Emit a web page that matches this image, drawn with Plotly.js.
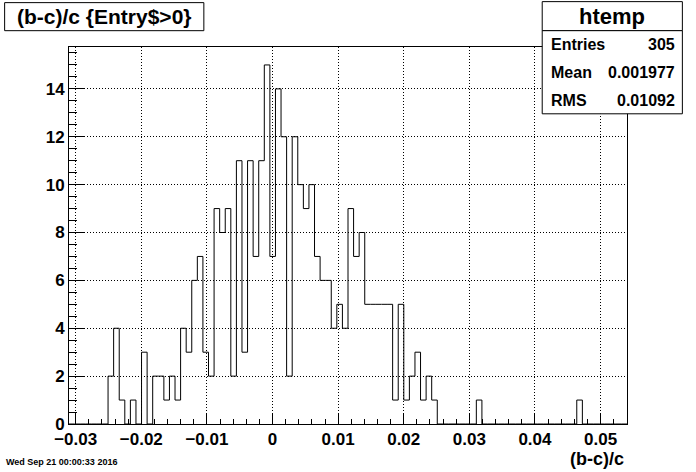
<!DOCTYPE html>
<html>
<head>
<meta charset="utf-8">
<script src="https://cdn.plot.ly/plotly-3.0.1.min.js"></script>
<style>html,body{margin:0;padding:0;background:#fff;}#plot{width:696px;height:472px;}</style>
</head>
<body>
<div id="plot"></div>
<script>
// Histogram binning
var nBins = 100;
var xMin = -0.03102;
var xMax = 0.05403;
// Bin contents, bins 0..99
var counts = [
  0,0,0,0,0,0,0,2,4,1,
  0,1,0,3,0,2,2,1,2,1,
  4,3,6,7,3,2,9,8,9,2,
  11,3,11,7,11,15,7,14,12,2,
  12,10,9,10,7,6,6,4,5,4,
  9,7,8,5,5,5,5,5,1,5,
  1,2,3,1,2,1,0,0,0,0,
  0,0,0,1,0,0,0,0,0,0,
  0,0,0,0,0,0,0,0,0,0,
  0,1,0,0,0,0,0,0,0,0
];
var titleText = "(b-c)/c {Entry$>0}";
var histName = "htemp";
var statLabels = ["Entries", "Mean", "RMS"];
var statValues = ["305", "0.001977", "0.01092"];
var xTitle = "(b-c)/c";
var dateText = "Wed Sep 21 00:00:33 2016";

// Build step outline from bin edges
var bw = (xMax - xMin) / nBins;
var xs = [], ys = [];
for (var i = 0; i <= nBins; i++) {
  xs.push(xMin + i * bw);
  ys.push(i < nBins ? counts[i] : counts[nBins - 1]);
}

var W = 696, H = 472;
var L = 69.3, R = 69.3, T = 47.3, B = 48.3;
var pw = W - L - R, ph = H - T - B;
function px2x(px) { return (px - L) / pw; }
function px2y(py) { return (H - B - py) / ph; }

var FONT = "Liberation Sans, Arial, Helvetica, sans-serif";
function bold(size) { return {family: FONT, size: size, color: "#000", weight: "bold"}; }

var shapes = [
  {type: "rect", xref: "paper", yref: "paper", x0: px2x(5), x1: px2x(204), y0: px2y(31), y1: px2y(3),
   line: {color: "#000", width: 1}, fillcolor: "#fff", layer: "above"},
  {type: "rect", xref: "paper", yref: "paper", x0: px2x(542), x1: px2x(682), y0: px2y(31), y1: px2y(2),
   line: {color: "#000", width: 1}, fillcolor: "#fff", layer: "above"},
  {type: "rect", xref: "paper", yref: "paper", x0: px2x(542), x1: px2x(682), y0: px2y(114), y1: px2y(31),
   line: {color: "#000", width: 1}, fillcolor: "#fff", layer: "above"}
];

var annotations = [
  {text: titleText, xref: "paper", yref: "paper", x: px2x(104.5), y: px2y(17), xanchor: "center", yanchor: "middle",
   showarrow: false, font: bold(21)},
  {text: histName, xref: "paper", yref: "paper", x: px2x(612), y: px2y(16.5), xanchor: "center", yanchor: "middle",
   showarrow: false, font: bold(22)},
  {text: xTitle, xref: "paper", yref: "paper", x: px2x(626), y: px2y(459), xanchor: "right", yanchor: "middle",
   showarrow: false, font: bold(18)},
  {text: dateText, xref: "paper", yref: "paper", x: px2x(4), y: px2y(462), xanchor: "left", yanchor: "middle",
   showarrow: false, font: bold(9)}
];
var statY = [45, 73, 101];
for (var k = 0; k < statLabels.length; k++) {
  annotations.push({text: statLabels[k], xref: "paper", yref: "paper", x: px2x(549), y: px2y(statY[k]),
    xanchor: "left", yanchor: "middle", showarrow: false, font: bold(16)});
  annotations.push({text: statValues[k], xref: "paper", yref: "paper", x: px2x(677), y: px2y(statY[k]),
    xanchor: "right", yanchor: "middle", showarrow: false, font: bold(16)});
}

var trace = {
  type: "scatter", mode: "lines", x: xs, y: ys,
  line: {shape: "hv", color: "#000", width: 1},
  hoverinfo: "skip"
};

var layout = {
  width: W, height: H,
  margin: {l: L, r: R, t: T, b: B, pad: 0},
  paper_bgcolor: "#fff", plot_bgcolor: "#fff",
  showlegend: false,
  xaxis: {
    range: [xMin, xMax], tickmode: "linear", tick0: 0, dtick: 0.01,
    ticks: "inside", ticklen: 11, tickcolor: "#000", tickwidth: 1,
    minor: {dtick: 0.002, tick0: 0, ticks: "inside", ticklen: 5.5, tickcolor: "#000", tickwidth: 1, showgrid: false},
    showgrid: true, gridcolor: "#000", griddash: "1px,2px", gridwidth: 1,
    zeroline: false, showline: true, linecolor: "#000", linewidth: 1, mirror: true,
    tickfont: bold(17), fixedrange: true
  },
  yaxis: {
    range: [0, 15.75], tickmode: "linear", tick0: 0, dtick: 2,
    ticks: "inside", ticklen: 16, tickcolor: "#000", tickwidth: 1,
    minor: {dtick: 0.5, tick0: 0, ticks: "inside", ticklen: 8, tickcolor: "#000", tickwidth: 1, showgrid: false},
    showgrid: true, gridcolor: "#000", griddash: "1px,2px", gridwidth: 1,
    zeroline: false, showline: true, linecolor: "#000", linewidth: 1, mirror: true,
    tickfont: bold(17), fixedrange: true
  },
  shapes: shapes,
  annotations: annotations
};

Plotly.newPlot("plot", [trace], layout, {staticPlot: true, displayModeBar: false});
</script>
</body>
</html>
